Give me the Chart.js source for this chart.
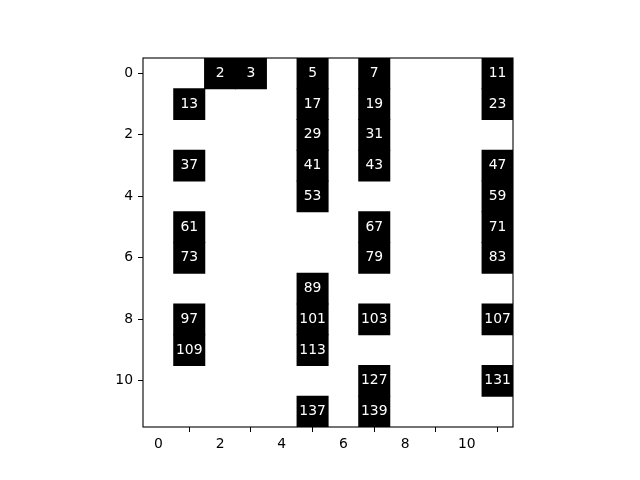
<!DOCTYPE html>
<html>
<head>
<meta charset="utf-8">
<script src="https://cdn.jsdelivr.net/npm/chart.js@4/dist/chart.umd.min.js"></script>
<style>
html,body{margin:0;padding:0;background:#fff;}
#wrap{width:640px;height:480px;position:relative;}
</style>
</head>
<body>
<div id="wrap"><canvas id="c" width="640" height="480"></canvas></div>
<script>
const cellValues = [2,3,5,7,11,13,17,19,23,29,31,37,41,43,47,53,59,61,67,71,73,79,83,89,97,101,103,107,109,113,127,131,137,139];
const cellRows   = [0,0,0,0,0, 1,1,1,1, 2,2, 3,3,3,3, 4,4, 5,5,5, 6,6,6, 7, 8,8,8,8, 9,9, 10,10, 11,11];
const cellCols   = [2,3,5,7,11,1,5,7,11,5,7, 1,5,7,11,5,11,1,7,11,1,7,11,5, 1,5,7,11,1,5, 7,11, 5,7];
const xTicks = [0,2,4,6,8,10];
const yTicks = [0,2,4,6,8,10];

const data = cellValues.map((v,i)=>({x: cellCols[i], y: [cellRows[i]-0.5, cellRows[i]+0.5], v: v}));

const FONT = {family: "'DejaVu Sans'", size: 13.9};

const framePlugin = {
  id: 'frame',
  afterDraw(chart){
    const a = chart.chartArea, ctx = chart.ctx;
    ctx.save();
    ctx.strokeStyle = '#000';
    ctx.lineWidth = 1.1;
    ctx.strokeRect(a.left, a.top, a.right-a.left, a.bottom-a.top);
    ctx.restore();
  }
};

const labelPlugin = {
  id: 'cellLabels',
  afterDatasetsDraw(chart){
    const ctx = chart.ctx;
    const meta = chart.getDatasetMeta(0);
    ctx.save();
    ctx.fillStyle = '#fff';
    ctx.font = "13.9px 'DejaVu Sans'";
    ctx.textAlign = 'center';
    ctx.textBaseline = 'middle';
    meta.data.forEach((el,i)=>{
      const cy = (el.y + el.base)/2;
      ctx.fillText(String(cellValues[i]), el.x, cy);
    });
    ctx.restore();
  }
};

new Chart(document.getElementById('c'), {
  type: 'bar',
  data: {
    datasets: [{
      data: data,
      backgroundColor: '#000',
      borderWidth: 0,
      inflateAmount: 0.6,
      barPercentage: 1.0,
      categoryPercentage: 1.0
    }]
  },
  options: {
    responsive: false,
    animation: false,
    events: [],
    layout: {padding: {left: 0, right: 127, top: 58, bottom: 0}},
    plugins: {legend: {display: false}, tooltip: {enabled: false}},
    scales: {
      x: {
        type: 'linear',
        min: -0.5, max: 11.5,
        offset: false,
        afterBuildTicks(axis){ axis.ticks = xTicks.map(v=>({value:v})); },
        afterFit(axis){ axis.height = 53; },
        grid: {drawOnChartArea: false, drawTicks: true, tickLength: 5, color: '#000', tickWidth: 1},
        border: {display: false},
        ticks: {color: '#000', font: FONT, padding: 4, maxRotation: 0, autoSkip: false}
      },
      y: {
        type: 'linear',
        reverse: true,
        min: -0.5, max: 11.5,
        afterBuildTicks(axis){ axis.ticks = yTicks.map(v=>({value:v})); },
        afterFit(axis){ axis.width = 143; },
        grid: {drawOnChartArea: false, drawTicks: true, tickLength: 5, color: '#000', tickWidth: 1},
        border: {display: false},
        ticks: {color: '#000', font: FONT, padding: 5, autoSkip: false}
      }
    }
  },
  plugins: [framePlugin, labelPlugin]
});
</script>
</body>
</html>
